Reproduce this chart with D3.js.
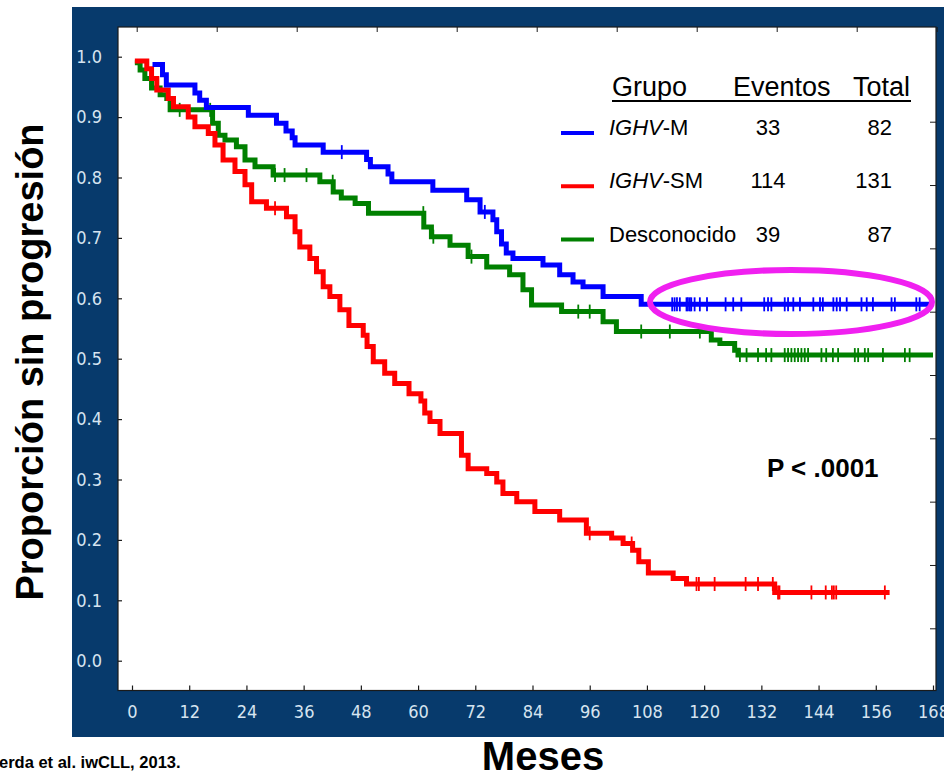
<!DOCTYPE html>
<html>
<head>
<meta charset="utf-8">
<script src="https://cdn.jsdelivr.net/npm/d3@7"></script>
<style>
  body { margin: 0; background: #ffffff; }
  .tick text { font-family: "Liberation Sans Narrow", "Arial Narrow", "DejaVu Sans Condensed", sans-serif; }
</style>
</head>
<body>
<script>

//SVG dimension variables
var w = 944, h = 774;

//axis ticks
var xTicks = [0, 12, 24, 36, 48, 60, 72, 84, 96, 108, 120, 132, 144, 156, 168];
var yTicks = [0, 0.1, 0.2, 0.3, 0.4, 0.5, 0.6, 0.7, 0.8, 0.9, 1.0];

//IGHV-M (blue) - step times (months) and survival after each step
var blueTimes = [4.3, 6.4, 7.2, 13.2, 14.2, 15.6, 24.4, 30.3, 32.3, 33.6, 34.2, 40.1, 49.2, 50, 53.7, 54.5, 63.1, 70.2, 73, 75.7, 76.5, 77.5, 78.5, 79.9, 86.2, 89.7, 92.5, 94.6, 98.8, 106.8, 168];
var blueSurv = [0.987, 0.97, 0.953, 0.94, 0.928, 0.916, 0.903, 0.89, 0.877, 0.866, 0.854, 0.842, 0.83, 0.818, 0.806, 0.793, 0.779, 0.763, 0.743, 0.73, 0.71, 0.69, 0.675, 0.666, 0.655, 0.639, 0.627, 0.619, 0.603, 0.59, 0.59];
var blueCens = [44, 74, 113.3, 113.8, 114.3, 114.9, 116.3, 116.6, 117, 117.3, 118, 119.1, 120.6, 124.5, 126.1, 127.8, 132.6, 133.4, 134.1, 136.9, 137.6, 138.7, 140.1, 142.9, 144.3, 144.9, 147.1, 147.8, 148.5, 149.9, 153, 154.1, 155.4, 159.3, 160, 164.5, 165.2];

//IGHV-SM (red)
var redTimes = [0.6, 3.1, 4.1, 5.2, 7.6, 8.7, 11.8, 13.2, 16, 17.4, 19.1, 21.6, 23.7, 25.1, 28.2, 32.4, 34.2, 35.2, 37.3, 38.7, 40.1, 41.5, 43.6, 45.5, 48.5, 49.3, 50.6, 53, 55.1, 58.1, 60.6, 61.4, 62.5, 64.6, 69.1, 70.5, 74.4, 76.5, 77.8, 80.7, 84.5, 89.7, 95.3, 100.6, 103, 105, 106.3, 108.3, 113.5, 116.3, 134.8, 158.9];
var redSurv = [0.993, 0.98, 0.964, 0.945, 0.931, 0.917, 0.9, 0.884, 0.873, 0.854, 0.829, 0.81, 0.788, 0.76, 0.749, 0.735, 0.71, 0.685, 0.666, 0.644, 0.619, 0.603, 0.581, 0.555, 0.539, 0.52, 0.495, 0.476, 0.459, 0.442, 0.43, 0.41, 0.396, 0.376, 0.34, 0.318, 0.31, 0.296, 0.277, 0.263, 0.247, 0.233, 0.211, 0.203, 0.194, 0.183, 0.164, 0.145, 0.136, 0.127, 0.113, 0.113];
var redCens = [30, 96, 104.8, 118.4, 118.9, 122.2, 128.7, 131.3, 134.4, 135.5, 135.8, 142.5, 145.5, 146.8, 147.2, 147.7, 157.9];

//Desconocido (green)
var greenTimes = [0.6, 1.7, 2.7, 4.1, 5.9, 7.3, 8, 16.9, 18.1, 19.5, 21.9, 23.7, 25.8, 29.6, 39.4, 42.2, 43.9, 46.8, 49.6, 61.2, 62.8, 66.7, 70.5, 74.4, 79.2, 82, 83.8, 90.1, 98.8, 101.6, 121.5, 123.3, 126.4, 127.1, 168];
var greenSurv = [0.99, 0.978, 0.964, 0.948, 0.937, 0.931, 0.912, 0.89, 0.87, 0.862, 0.851, 0.829, 0.818, 0.804, 0.793, 0.776, 0.766, 0.757, 0.741, 0.718, 0.702, 0.688, 0.669, 0.652, 0.639, 0.614, 0.589, 0.578, 0.561, 0.545, 0.531, 0.525, 0.514, 0.506, 0.506];
var greenCens = [10, 16.4, 30, 32, 36.6, 42.1, 61.1, 63.2, 71.2, 93.6, 96, 106.8, 112.8, 119.1, 127.5, 128.9, 131.3, 133, 134.1, 136.9, 137.6, 138.3, 139, 139.7, 140.4, 141.1, 141.8, 144.6, 145.6, 147, 148.1, 151.6, 152.3, 153.7, 154.4, 157.5, 162.1, 163.1];

//legend table
var groupItalic = ["IGHV", "IGHV", ""];
var groupRest = ["-M", "-SM", "Desconocido"];
var eventCounts = [33, 114, 39];
var totalCounts = [82, 131, 87];
var groupColors = ["#0000ff", "#ff0000", "#008000"];

//execute script when window is loaded
window.onload = function(){

    var svg = d3.select("body")
        .append("svg")
        .attr("width", w)
        .attr("height", h)
        .attr("class", "container");

    //navy frame and white plot area
    svg.append("rect")
        .attr("x", 72).attr("y", 7)
        .attr("width", 880).attr("height", 730)
        .style("fill", "#073a6c");

    svg.append("rect")
        .attr("class", "plotArea")
        .attr("x", 118).attr("y", 27)
        .attr("width", 818).attr("height", 663.5)
        .style("fill", "#ffffff")
        .style("stroke", "#1a1a1a")
        .style("stroke-width", 1.2);

    //scales
    var x = d3.scaleLinear().domain([0, 168]).range([132, 933]);
    var y = d3.scaleLinear().domain([0, 1]).range([660.7, 56.7]);

    //bottom axis
    var xAxis = d3.axisBottom(x)
        .tickValues(xTicks)
        .tickSize(-5)
        .tickPadding(15);

    var gx = svg.append("g")
        .attr("class", "xAxis")
        .attr("transform", "translate(0,690.5)")
        .call(xAxis);
    gx.select(".domain").remove();
    gx.selectAll("line").style("stroke", "#1a1a1a").style("stroke-width", 1.2);
    gx.selectAll("text").style("fill", "#d6e4f0").style("font-size", "18px");

    //left axis
    var yAxis = d3.axisLeft(y)
        .tickValues(yTicks)
        .tickFormat(d3.format(".1f"))
        .tickSize(-4)
        .tickPadding(16);

    var gy = svg.append("g")
        .attr("class", "yAxis")
        .attr("transform", "translate(118,0)")
        .call(yAxis);
    gy.select(".domain").remove();
    gy.selectAll("line").style("stroke", "#1a1a1a").style("stroke-width", 1.2);
    gy.selectAll("text").style("fill", "#d6e4f0").style("font-size", "18px");

    //frame ticks on the top and right edges
    var topScale = d3.scaleLinear().domain([0, 10]).range([136.7, 936.7]);
    var gt = svg.append("g")
        .attr("transform", "translate(0,27)")
        .call(d3.axisTop(topScale).ticks(10).tickSize(-5).tickFormat(""));
    gt.select(".domain").remove();
    gt.selectAll("line").style("stroke", "#1a1a1a");

    var rightScale = d3.scaleLinear().domain([0, 8]).range([121.7, 628.3]);
    var gr = svg.append("g")
        .attr("transform", "translate(936,0)")
        .call(d3.axisRight(rightScale).ticks(8).tickSize(-6).tickFormat(""));
    gr.select(".domain").remove();
    gr.selectAll("line").style("stroke", "#1a1a1a");

    //Kaplan-Meier curves
    var series = [
        {times: blueTimes, surv: blueSurv, cens: blueCens, color: groupColors[0]},
        {times: redTimes, surv: redSurv, cens: redCens, color: groupColors[1]},
        {times: greenTimes, surv: greenSurv, cens: greenCens, color: groupColors[2]}
    ];

    var stepLine = d3.line()
        .x(function(d){ return x(d[0]); })
        .y(function(d){ return y(d[1]); })
        .curve(d3.curveStepAfter);

    //survival value at a given time (for censor marks)
    function survAt(s, t){
        var i = d3.bisectRight(s.times, t) - 1;
        return s.surv[Math.max(i, 0)];
    }

    //draw green first, then red, then blue on top
    [2, 1, 0].forEach(function(k){
        var s = series[k];
        var pts = s.times.map(function(t, i){ return [t, s.surv[i]]; });

        svg.append("path")
            .datum(pts)
            .attr("d", stepLine)
            .style("fill", "none")
            .style("stroke", s.color)
            .style("stroke-width", 5);

        svg.append("g").selectAll("line")
            .data(s.cens)
            .enter()
            .append("line")
            .attr("x1", function(d){ return x(d); })
            .attr("x2", function(d){ return x(d); })
            .attr("y1", function(d){ return y(survAt(s, d)) - 7; })
            .attr("y2", function(d){ return y(survAt(s, d)) + 7; })
            .style("stroke", s.color)
            .style("stroke-width", 1.8);
    });

    //magenta ellipse highlighting the blue plateau
    svg.append("ellipse")
        .attr("cx", 791).attr("cy", 302)
        .attr("rx", 141).attr("ry", 32)
        .style("fill", "none")
        .style("stroke", "#f020f0")
        .style("stroke-width", 6);

    //legend table
    var legend = svg.append("g")
        .attr("class", "legend")
        .style("font-family", "'Liberation Sans', Arial, sans-serif")
        .style("fill", "#000000");

    legend.append("text").attr("x", 612).attr("y", 96).style("font-size", "27px").text("Grupo");
    legend.append("text").attr("x", 733).attr("y", 96).style("font-size", "27px").text("Eventos");
    legend.append("text").attr("x", 910).attr("y", 96).attr("text-anchor", "end").style("font-size", "27px").text("Total");
    legend.append("line")
        .attr("x1", 612).attr("x2", 911)
        .attr("y1", 101).attr("y2", 101)
        .style("stroke", "#000000")
        .style("stroke-width", 2);

    var rowY = d3.scaleLinear().domain([0, 2]).range([135, 241.5]);

    var rows = legend.selectAll(".row")
        .data(groupRest)
        .enter()
        .append("g")
        .attr("class", "row");

    rows.append("line")
        .attr("x1", 561).attr("x2", 594)
        .attr("y1", function(d, i){ return rowY(i) - 2; })
        .attr("y2", function(d, i){ return rowY(i) - 2; })
        .style("stroke", function(d, i){ return groupColors[i]; })
        .style("stroke-width", 4);

    var label = rows.append("text")
        .attr("x", 609)
        .attr("y", function(d, i){ return rowY(i); })
        .style("font-size", "22px");
    label.append("tspan")
        .style("font-style", "italic")
        .text(function(d, i){ return groupItalic[i]; });
    label.append("tspan")
        .text(function(d){ return d; });

    rows.append("text")
        .attr("x", 768)
        .attr("y", function(d, i){ return rowY(i); })
        .attr("text-anchor", "middle")
        .style("font-size", "22px")
        .text(function(d, i){ return eventCounts[i]; });

    rows.append("text")
        .attr("x", 892)
        .attr("y", function(d, i){ return rowY(i); })
        .attr("text-anchor", "end")
        .style("font-size", "22px")
        .text(function(d, i){ return totalCounts[i]; });

    //p value
    svg.append("text")
        .attr("x", 767).attr("y", 477)
        .style("font-family", "'Liberation Sans', Arial, sans-serif")
        .style("font-weight", "bold")
        .style("font-size", "26px")
        .text("P < .0001");

    //axis titles
    svg.append("text")
        .attr("transform", "translate(43,362) rotate(-90)")
        .attr("text-anchor", "middle")
        .style("font-family", "'Liberation Sans', Arial, sans-serif")
        .style("font-weight", "bold")
        .style("font-size", "38px")
        .text("Proporción sin progresión");

    svg.append("text")
        .attr("x", 543).attr("y", 770)
        .attr("text-anchor", "middle")
        .style("font-family", "'Liberation Sans', Arial, sans-serif")
        .style("font-weight", "bold")
        .style("font-size", "40px")
        .text("Meses");

    //citation (cut off at the left edge)
    svg.append("text")
        .attr("x", -1).attr("y", 768)
        .style("font-family", "'Liberation Sans', Arial, sans-serif")
        .style("font-weight", "bold")
        .style("font-size", "16.5px")
        .text("erda et al. iwCLL, 2013.");
};

</script>
</body>
</html>
